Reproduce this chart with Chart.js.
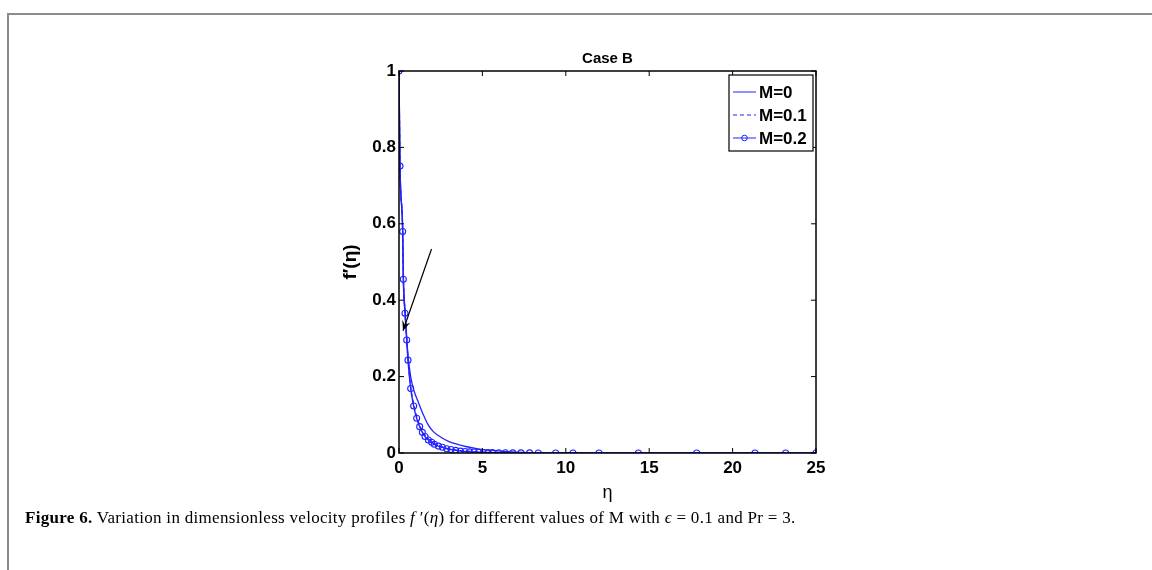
<!DOCTYPE html>
<html>
<head>
<meta charset="utf-8">
<script src="https://cdn.jsdelivr.net/npm/chart.js@4.4.1/dist/chart.umd.min.js"></script>
<style>
  html, body { margin: 0; padding: 0; background: #fff; }
  body { width: 1152px; height: 570px; position: relative; overflow: hidden; }
  #frame { position: absolute; left: 7px; top: 13px; width: 1160px; height: 580px;
           border-top: 2px solid #8c8c8c; border-left: 2px solid #8c8c8c; }
  #wrap { position: absolute; left: 0; top: 0; width: 1152px; height: 570px; }
  #caption { position: absolute; left: 25px; top: 508px; font-family: "Liberation Serif", serif;
             font-size: 17px; letter-spacing: 0.3px; white-space: nowrap; color: #000; }
  #caption i { font-style: italic; }
</style>
</head>
<body>
<div id="frame"></div>
<div id="wrap"><canvas id="chart"></canvas></div>
<div id="caption"><b>Figure 6.</b> Variation in dimensionless velocity profiles <i>f</i> ′(<i>η</i>) for different values of M with <i>ϵ</i> = 0.1 and Pr = 3.</div>
<script>
const TITLE = "Case B";
const X_LABEL = "η";
const Y_LABEL = "f′(η)";
const SERIES_LABELS = ["M=0", "M=0.1", "M=0.2"];
const X_TICKS = [0, 5, 10, 15, 20, 25];
const Y_TICKS = [0, 0.2, 0.4, 0.6, 0.8, 1];

// M=0 (solid, sits a little above the others in the tail)
const ETA_M0 = [0, 0.06, 0.22, 0.26, 0.36, 0.46, 0.54, 0.7, 0.9, 1.16, 1.46, 1.76, 2.06, 2.56, 3.0, 3.56, 4.0, 4.74, 5.76, 7.0, 8.0, 10, 12, 15, 20, 25];
const F_M0 = [1, 0.755, 0.585, 0.465, 0.375, 0.305, 0.255, 0.2, 0.163, 0.133, 0.1, 0.073, 0.056, 0.04, 0.03, 0.022, 0.017, 0.011, 0.006, 0.002, 0.001, 0, 0, 0, 0, 0];

// shared solver mesh for M=0.1 and M=0.2
const ETA_MESH = [0, 0.06, 0.22, 0.26, 0.36, 0.46, 0.54, 0.70, 0.88, 1.06, 1.24, 1.40, 1.56, 1.76, 1.96, 2.12, 2.36, 2.6, 2.86, 3.12, 3.4, 3.68, 3.96, 4.22, 4.5, 4.78, 5.05, 5.34, 5.6, 5.98, 6.38, 6.82, 7.31, 7.83, 8.35, 9.39, 10.43, 11.99, 14.35, 17.85, 21.34, 23.18, 25];
const F_M01 = [1, 0.753, 0.583, 0.46, 0.37, 0.3, 0.248, 0.174, 0.128, 0.095, 0.073, 0.057, 0.046, 0.037, 0.030, 0.025, 0.02, 0.016, 0.012, 0.01, 0.008, 0.006, 0.005, 0.004, 0.003, 0.0025, 0.002, 0.0015, 0.0012, 0.001, 0.0008, 0.0005, 0.0004, 0.0003, 0.0002, 0.0001, 0, 0, 0, 0, 0, 0, 0];
const F_M02 = [1, 0.751, 0.58, 0.455, 0.366, 0.296, 0.243, 0.169, 0.123, 0.091, 0.069, 0.054, 0.043, 0.034, 0.028, 0.023, 0.018, 0.015, 0.011, 0.009, 0.007, 0.005, 0.004, 0.003, 0.0025, 0.002, 0.0015, 0.001, 0.001, 0.0008, 0.0006, 0.0004, 0.0003, 0.0002, 0.0001, 0, 0, 0, 0, 0, 0, 0, 0];

// arrow annotation (data coordinates): tail -> head
const ARROW_FROM = [1.95, 0.534];
const ARROW_TO = [0.24, 0.32];

const BLUE = "rgb(35,35,255)";
const SANS = "'Liberation Sans', Arial, sans-serif";

function toPoints(xs, ys) {
  return xs.map((x, i) => ({ x, y: ys[i] }));
}

const frameAndLegend = {
  id: "frameAndLegend",
  afterDatasetsDraw(chart) {
    const { ctx, chartArea: a, scales: { x, y } } = chart;
    ctx.save();

    // axes box
    ctx.strokeStyle = "#000";
    ctx.lineWidth = 1.5;
    ctx.strokeRect(a.left, a.top, a.right - a.left, a.bottom - a.top);

    // inward ticks on all four sides
    ctx.lineWidth = 1;
    const tl = 5;
    X_TICKS.forEach((t) => {
      const px = x.getPixelForValue(t);
      ctx.beginPath();
      ctx.moveTo(px, a.bottom); ctx.lineTo(px, a.bottom - tl);
      ctx.moveTo(px, a.top); ctx.lineTo(px, a.top + tl);
      ctx.stroke();
    });
    Y_TICKS.forEach((t) => {
      const py = y.getPixelForValue(t);
      ctx.beginPath();
      ctx.moveTo(a.left, py); ctx.lineTo(a.left + tl, py);
      ctx.moveTo(a.right, py); ctx.lineTo(a.right - tl, py);
      ctx.stroke();
    });

    // arrow
    const x0 = x.getPixelForValue(ARROW_FROM[0]), y0 = y.getPixelForValue(ARROW_FROM[1]);
    const x1 = x.getPixelForValue(ARROW_TO[0]), y1 = y.getPixelForValue(ARROW_TO[1]);
    const ang = Math.atan2(y1 - y0, x1 - x0);
    ctx.strokeStyle = "#000";
    ctx.fillStyle = "#000";
    ctx.lineWidth = 1.2;
    ctx.beginPath(); ctx.moveTo(x0, y0); ctx.lineTo(x1, y1); ctx.stroke();
    ctx.beginPath();
    ctx.moveTo(x1, y1);
    ctx.lineTo(x1 - 11 * Math.cos(ang - 0.4), y1 - 11 * Math.sin(ang - 0.4));
    ctx.lineTo(x1 - 6 * Math.cos(ang), y1 - 6 * Math.sin(ang));
    ctx.lineTo(x1 - 11 * Math.cos(ang + 0.4), y1 - 11 * Math.sin(ang + 0.4));
    ctx.closePath();
    ctx.fill();

    // legend
    const bw = 84, bh = 76;
    const bx = a.right - bw - 3, by = a.top + 4;
    ctx.fillStyle = "#fff";
    ctx.fillRect(bx, by, bw, bh);
    ctx.strokeStyle = "#000";
    ctx.lineWidth = 1.2;
    ctx.strokeRect(bx, by, bw, bh);
    ctx.font = "bold 17px " + SANS;
    ctx.textBaseline = "middle";
    ctx.textAlign = "left";
    chart.data.datasets.forEach((ds, i) => {
      const ry = by + 17 + i * 23;
      ctx.strokeStyle = BLUE;
      ctx.lineWidth = 1;
      ctx.setLineDash(ds.borderDash || []);
      ctx.beginPath(); ctx.moveTo(bx + 4, ry); ctx.lineTo(bx + 27, ry); ctx.stroke();
      ctx.setLineDash([]);
      if (ds.pointRadius > 0) {
        ctx.beginPath(); ctx.arc(bx + 15.5, ry, 2.8, 0, Math.PI * 2); ctx.stroke();
      }
      ctx.fillStyle = "#000";
      ctx.fillText(ds.label, bx + 30, ry + 1);
    });
    ctx.restore();
  },
};

const tickFont = { family: SANS, size: 17, weight: "bold" };

new Chart(document.getElementById("chart"), {
  type: "line",
  data: {
    datasets: [
      { label: SERIES_LABELS[0], data: toPoints(ETA_M0, F_M0), borderColor: BLUE, borderWidth: 1.3, pointRadius: 0, cubicInterpolationMode: "monotone" },
      { label: SERIES_LABELS[1], data: toPoints(ETA_MESH, F_M01), borderColor: BLUE, borderWidth: 1.3, borderDash: [4, 3], pointRadius: 0, cubicInterpolationMode: "monotone" },
      { label: SERIES_LABELS[2], data: toPoints(ETA_MESH, F_M02), borderColor: BLUE, borderWidth: 1.4, pointRadius: 3, pointStyle: "circle", pointBackgroundColor: "rgba(0,0,0,0)", pointBorderColor: BLUE, pointBorderWidth: 1.1, cubicInterpolationMode: "monotone" },
    ],
  },
  options: {
    responsive: true,
    maintainAspectRatio: false,
    animation: false,
    events: [],
    layout: { padding: { left: 335, right: 336, top: 0, bottom: 63 } },
    plugins: {
      legend: { display: false },
      tooltip: { enabled: false },
      title: {
        display: true, text: TITLE, color: "#000", fullSize: false,
        font: { family: SANS, size: 15, weight: "bold", lineHeight: 1.2 },
        padding: { top: 50, bottom: 3 },
      },
    },
    scales: {
      x: {
        type: "linear", min: 0, max: 25,
        afterBuildTicks(s) { s.ticks = X_TICKS.map((v) => ({ value: v })); },
        afterFit(s) { s.height = 54; },
        ticks: { color: "#000", font: tickFont, padding: 5, maxRotation: 0, callback: (v) => String(v) },
        grid: { display: false, drawTicks: false },
        border: { display: false },
        title: { display: true, text: X_LABEL, color: "#000", font: { family: SANS, size: 18 }, padding: { top: 0, bottom: 3 } },
      },
      y: {
        type: "linear", min: 0, max: 1,
        afterBuildTicks(s) { s.ticks = Y_TICKS.map((v) => ({ value: v })); },
        afterFit(s) { s.width = 64; },
        ticks: { color: "#000", font: tickFont, padding: 3, callback: (v) => String(Math.round(v * 10) / 10) },
        grid: { display: false, drawTicks: false },
        border: { display: false },
        title: { display: true, text: Y_LABEL, color: "#000", font: { family: SANS, size: 19, weight: "bold" }, padding: { top: 4, bottom: 0 } },
      },
    },
  },
  plugins: [frameAndLegend],
});
</script>
</body>
</html>
